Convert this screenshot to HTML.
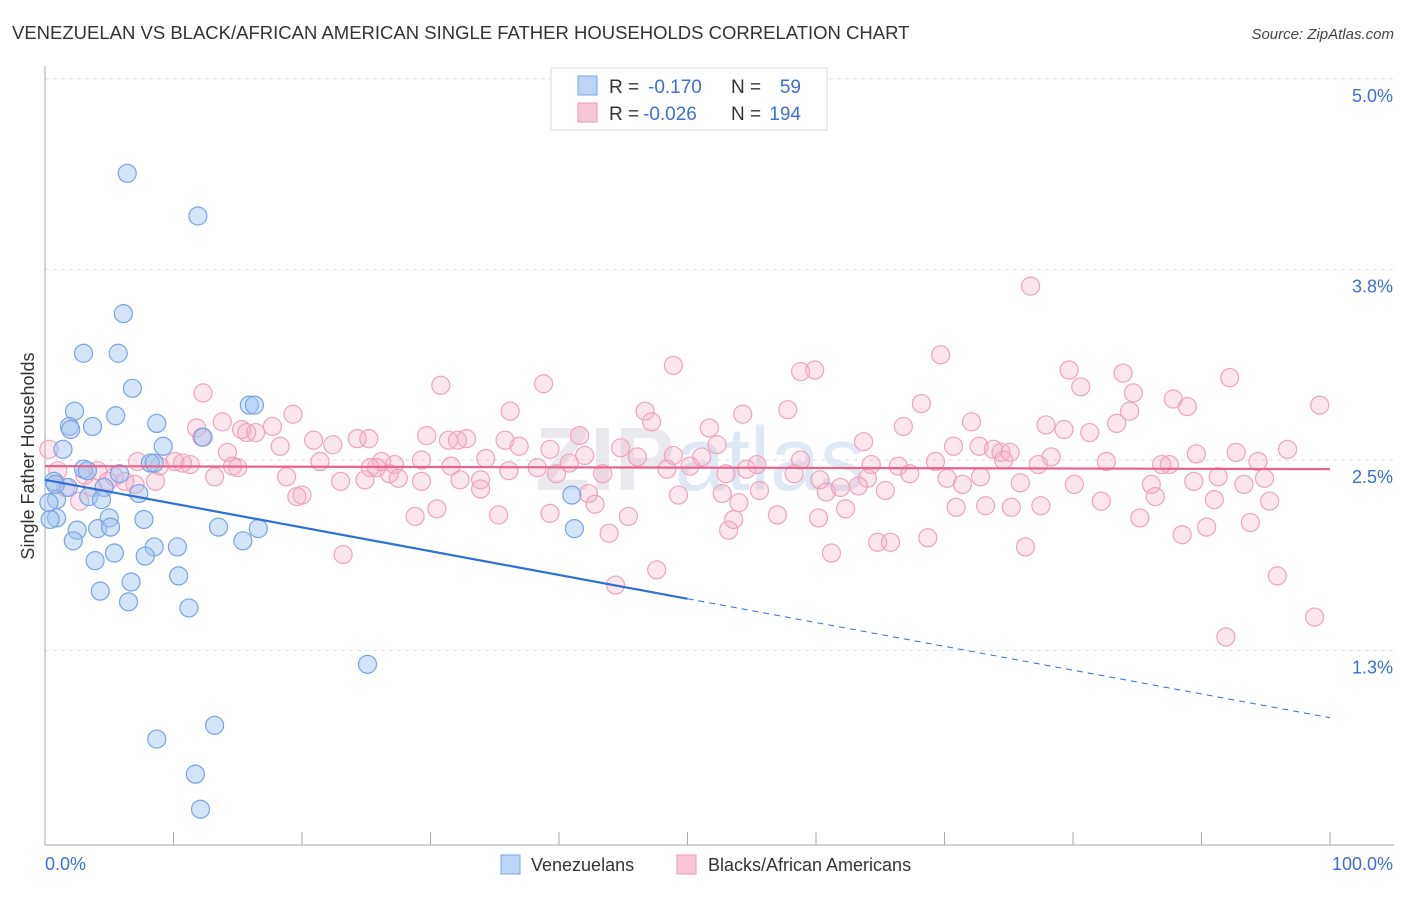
<!DOCTYPE html>
<html><head><meta charset="utf-8"><style>
body{margin:0;background:#fff;font-family:"Liberation Sans",sans-serif;}
svg text{font-family:"Liberation Sans",sans-serif;}
</style></head><body>
<svg id="chart" width="1406" height="892" xmlns="http://www.w3.org/2000/svg">
<text x="12" y="39" font-size="18.5" fill="#333">VENEZUELAN VS BLACK/AFRICAN AMERICAN SINGLE FATHER HOUSEHOLDS CORRELATION CHART</text>
<text x="1394" y="39" font-size="15" fill="#444" text-anchor="end" font-style="italic">Source: ZipAtlas.com</text>
<text x="700" y="490" font-size="90" fill="#e9e9ee" text-anchor="middle" font-weight="bold">ZIP<tspan font-weight="normal" fill="#dfe8f5">atlas</tspan></text>
<g id="grid"></g>
<g id="axes"></g>
<g id="pink"></g>
<g id="blue"></g>
<g id="trends"></g>
<text transform="translate(34,456) rotate(-90)" font-size="18" fill="#333" text-anchor="middle">Single Father Households</text>
<g>
<rect x="551" y="68" width="276" height="62" fill="#fff" stroke="#ddd"/>
<rect x="578" y="76" width="19" height="19" fill="#bcd4f5" stroke="#7aa5e6"/>
<text x="609" y="93" font-size="19" fill="#333">R =</text>
<text x="648" y="93" font-size="19" fill="#3a6fd8">-0.170</text>
<text x="731" y="93" font-size="19" fill="#333">N =</text>
<text x="801" y="93" font-size="19" fill="#3a6fd8" text-anchor="end">59</text>
<rect x="578" y="103" width="19" height="19" fill="#f8c7d6" stroke="#ee99b5"/>
<text x="609" y="120" font-size="19" fill="#333">R =</text>
<text x="643" y="120" font-size="19" fill="#3a6fd8">-0.026</text>
<text x="731" y="120" font-size="19" fill="#333">N =</text>
<text x="801" y="120" font-size="19" fill="#3a6fd8" text-anchor="end">194</text>
</g>
<g>
<rect x="501" y="855" width="19" height="19" fill="#bcd4f5" stroke="#7aa5e6"/>
<text x="531" y="871" font-size="18" fill="#333">Venezuelans</text>
<rect x="677" y="855" width="19" height="19" fill="#f8c7d6" stroke="#ee99b5"/>
<text x="708" y="871" font-size="18" fill="#333">Blacks/African Americans</text>
</g>
</svg>
<script>
const yTicks=[1.25,2.5,3.75,5.0];
const yTickLabels=["1.3%","2.5%","3.8%","5.0%"];
const xTickLabels=["0.0%","100.0%"];
const blueX=[6.4,11.9,6.1,3.0,5.7,6.8,2.3,5.5,8.7,3.7,1.9,2.0,12.3,15.9,16.3,1.4,9.2,3.0,3.3,8.2,8.5,5.8,0.7,1.8,4.6,0.9,0.3,3.4,4.4,7.3,41.0,0.9,0.4,5.0,7.7,2.5,4.1,5.1,13.5,16.6,41.2,2.2,15.4,8.5,10.3,5.4,7.8,3.9,10.4,6.7,4.3,6.5,11.2,25.1,13.2,8.7,11.7,12.1,0.8];
const blueY=[4.38,4.10,3.46,3.20,3.20,2.97,2.82,2.79,2.74,2.72,2.72,2.70,2.65,2.86,2.86,2.57,2.59,2.44,2.43,2.48,2.48,2.41,2.36,2.32,2.32,2.24,2.22,2.26,2.24,2.28,2.27,2.12,2.11,2.12,2.11,2.04,2.05,2.06,2.06,2.05,2.05,1.97,1.97,1.93,1.93,1.89,1.87,1.84,1.74,1.70,1.64,1.57,1.53,1.16,0.76,0.67,0.44,0.21,2.34];
const pinkX=[76.7,69.7,48.9,58.8,59.9,79.7,83.9,92.2,30.8,38.8,80.6,84.7,12.3,68.2,87.8,88.9,99.2,36.2,46.7,57.8,54.3,19.3,47.2,84.4,72.1,77.9,83.4,66.8,13.8,17.7,11.8,15.3,15.7,16.4,51.7,79.3,81.3,41.6,29.7,24.3,25.2,32.8,31.4,20.9,12.2,35.8,36.9,63.7,52.3,72.7,70.7,92.7,96.7,42.0,39.3,44.8,0.3,14.2,18.3,22.4,73.8,74.4,89.6,46.1,34.3,32.1,51.1,94.4,78.3,74.6,82.6,87.5,86.9,77.3,69.3,66.4,64.3,58.8,55.4,54.6,50.2,48.4,40.8,38.3,36.1,31.6,27.2,29.3,26.2,25.8,21.4,15.0,11.3,10.7,10.1,8.9,7.2,4.1,5.4,1.0,3.1,13.2,18.8,26.8,27.5,29.3,33.9,32.3,39.8,43.4,53.0,58.3,60.3,64.0,67.3,70.2,71.4,72.8,75.9,80.1,86.1,89.4,91.3,93.3,94.9,3.7,1.6,7.0,8.6,6.2,4.9,23.0,24.9,14.6,20.0,19.6,33.9,42.3,49.3,52.7,55.6,61.9,60.8,65.4,63.3,82.2,86.4,91.0,95.3,2.7,28.8,30.5,35.3,39.3,42.8,45.4,53.6,54.0,57.0,60.2,62.3,70.9,73.2,75.2,77.5,85.2,93.8,90.4,88.5,53.2,43.9,64.8,68.7,65.8,61.2,76.3,23.2,47.6,44.4,95.9,98.8,91.9,75.1,48.9,25.3];
const pinkY=[3.64,3.19,3.12,3.08,3.09,3.09,3.07,3.04,2.99,3.00,2.98,2.94,2.94,2.87,2.90,2.85,2.86,2.82,2.82,2.83,2.80,2.80,2.75,2.82,2.75,2.73,2.74,2.72,2.75,2.72,2.71,2.70,2.68,2.68,2.71,2.70,2.68,2.66,2.66,2.64,2.64,2.64,2.63,2.63,2.65,2.63,2.59,2.62,2.60,2.59,2.59,2.55,2.57,2.53,2.57,2.58,2.57,2.55,2.59,2.60,2.57,2.55,2.54,2.52,2.51,2.63,2.52,2.49,2.52,2.50,2.49,2.47,2.47,2.47,2.49,2.46,2.47,2.50,2.47,2.44,2.46,2.44,2.48,2.45,2.43,2.46,2.47,2.50,2.49,2.45,2.49,2.45,2.47,2.48,2.49,2.46,2.49,2.43,2.39,2.43,2.40,2.39,2.39,2.41,2.38,2.36,2.37,2.37,2.41,2.41,2.41,2.41,2.37,2.38,2.41,2.38,2.34,2.39,2.35,2.34,2.34,2.36,2.39,2.34,2.38,2.32,2.32,2.34,2.36,2.36,2.36,2.36,2.37,2.46,2.27,2.26,2.31,2.28,2.27,2.28,2.30,2.32,2.29,2.30,2.33,2.23,2.26,2.24,2.23,2.23,2.13,2.18,2.14,2.15,2.21,2.13,2.11,2.22,2.14,2.12,2.18,2.19,2.20,2.19,2.20,2.12,2.09,2.06,2.01,2.04,2.02,1.96,1.99,1.96,1.89,1.93,1.88,1.78,1.68,1.74,1.47,1.34,2.55,2.53,2.45];
const blueTrend=[2.37,0.81];   // value at x=0, x=100
const pinkTrend=[2.46,2.44];

const NS="http://www.w3.org/2000/svg";
const X0=45,X1=1330,Y_BASE=460,PX_PER=152.5;
function sx(v){return X0+(X1-X0)*v/100;}
function sy(v){return Y_BASE-(v-2.5)*PX_PER;}
function mk(tag,attrs,parent){const e=document.createElementNS(NS,tag);for(const k in attrs)e.setAttribute(k,attrs[k]);parent.appendChild(e);return e;}

const grid=document.getElementById('grid');
yTicks.forEach((t,i)=>{
  const l=mk('line',{x1:X0,x2:1394,y1:sy(t),y2:sy(t),stroke:'#ddd','stroke-dasharray':'4,4'},grid);
  
  
  const tx=mk('text',{x:1393,y:sy(t)+23,'font-size':18,fill:'#3a6fd8','text-anchor':'end'},grid);
  tx.textContent=yTickLabels[i];
  
  
});
const axes=document.getElementById('axes');
mk('line',{x1:X0,x2:X0,y1:66,y2:845,stroke:'#aaa'},axes);
mk('line',{x1:X0,x2:1394,y1:845,y2:845,stroke:'#aaa'},axes);
for(let i=0;i<=10;i++){
  const t=mk('line',{x1:sx(i*10),x2:sx(i*10),y1:832,y2:845,stroke:'#aaa'},axes);
  
  
}
const xl0=mk('text',{x:45,y:870,'font-size':18,fill:'#3a6fd8'},axes);xl0.textContent=xTickLabels[0];


const xl1=mk('text',{x:1393,y:870,'font-size':18,fill:'#3a6fd8','text-anchor':'end'},axes);xl1.textContent=xTickLabels[1];



const pink=document.getElementById('pink');
pinkX.forEach((x,i)=>{
  const c=mk('circle',{cx:sx(x),cy:sy(pinkY[i]),r:9,fill:'rgba(246,172,196,0.3)',stroke:'#f0a3bc','stroke-width':1.2},pink);
  
  
});
const blue=document.getElementById('blue');
blueX.forEach((x,i)=>{
  const c=mk('circle',{cx:sx(x),cy:sy(blueY[i]),r:9,fill:'rgba(160,195,242,0.45)',stroke:'#78a3e6','stroke-width':1.2},blue);
  
  
});
const tr=document.getElementById('trends');
function at(t,x){return t[0]+(t[1]-t[0])*x/100;}
const bl=mk('line',{x1:sx(0),y1:sy(at(blueTrend,0)),x2:sx(50),y2:sy(at(blueTrend,50)),stroke:'#2f6fd6','stroke-width':2.2},tr);


const bd=mk('line',{x1:sx(50),y1:sy(at(blueTrend,50)),x2:sx(100),y2:sy(at(blueTrend,100)),stroke:'#2f6fd6','stroke-width':1,'stroke-dasharray':'6,5'},tr);


const pl=mk('line',{x1:sx(0),y1:sy(at(pinkTrend,0)),x2:sx(100),y2:sy(at(pinkTrend,100)),stroke:'#e8638c','stroke-width':2.2},tr);


</script>
</body></html>
